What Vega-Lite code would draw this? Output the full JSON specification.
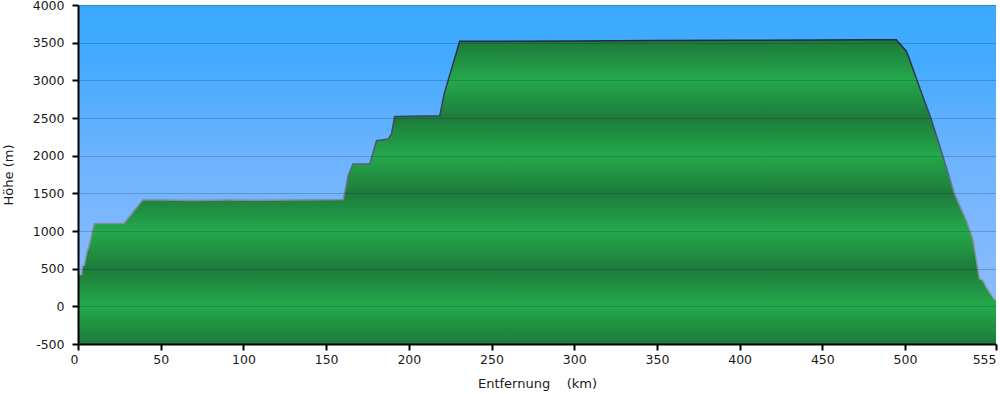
{
  "$schema": "https://vega.github.io/schema/vega-lite/v6.json",
  "width": 918,
  "height": 339,
  "autosize": "none",
  "padding": {"left": 78, "top": 5, "right": 4, "bottom": 50},
  "background": "white",
  "config": {
    "view": {"stroke": null},
    "font": "DejaVu Sans",
    "axis": {
      "labelFont": "DejaVu Sans",
      "titleFont": "DejaVu Sans",
      "labelFontSize": 12.5,
      "titleFontSize": 13,
      "titleFontWeight": "normal",
      "labelColor": "#1a1a1a",
      "titleColor": "#1a1a1a",
      "domainColor": "#000000",
      "domainWidth": 2,
      "tickColor": "#000000",
      "tickWidth": 2,
      "tickSize": 6
    }
  },
  "data": {
    "values": [
      {"km": 0, "elev": 420},
      {"km": 1.5, "elev": 420},
      {"km": 2.2, "elev": 425},
      {"km": 2.8, "elev": 535},
      {"km": 3.8, "elev": 545},
      {"km": 5.6, "elev": 740},
      {"km": 6.5, "elev": 785},
      {"km": 9.8, "elev": 1095},
      {"km": 12, "elev": 1100},
      {"km": 20, "elev": 1098},
      {"km": 27.8, "elev": 1100},
      {"km": 39.1, "elev": 1410},
      {"km": 50, "elev": 1410},
      {"km": 70, "elev": 1405},
      {"km": 90, "elev": 1410},
      {"km": 110, "elev": 1408},
      {"km": 130, "elev": 1412},
      {"km": 150, "elev": 1415},
      {"km": 160.3, "elev": 1417},
      {"km": 162.4, "elev": 1625},
      {"km": 163.3, "elev": 1735},
      {"km": 166.3, "elev": 1890},
      {"km": 176.4, "elev": 1890},
      {"km": 180.5, "elev": 2199},
      {"km": 187.5, "elev": 2220},
      {"km": 189.5, "elev": 2287},
      {"km": 191.5, "elev": 2520},
      {"km": 218.7, "elev": 2530},
      {"km": 221.5, "elev": 2830},
      {"km": 230.8, "elev": 3520},
      {"km": 260, "elev": 3518},
      {"km": 300, "elev": 3522},
      {"km": 350, "elev": 3528},
      {"km": 400, "elev": 3532},
      {"km": 450, "elev": 3536},
      {"km": 480, "elev": 3540},
      {"km": 494.7, "elev": 3538},
      {"km": 500.7, "elev": 3391},
      {"km": 502.7, "elev": 3281},
      {"km": 508.8, "elev": 2905},
      {"km": 515.8, "elev": 2486},
      {"km": 522.8, "elev": 2000},
      {"km": 529.9, "elev": 1493},
      {"km": 537.0, "elev": 1139},
      {"km": 541.0, "elev": 897},
      {"km": 545.0, "elev": 367},
      {"km": 547.0, "elev": 344},
      {"km": 549.1, "elev": 256},
      {"km": 554.1, "elev": 89},
      {"km": 555, "elev": 85}
    ]
  },
  "layer": [
    {
      "data": {"values": [{}]},
      "mark": {
        "type": "rect",
        "fill": {
          "gradient": "linear", "x1": 0, "y1": 0, "x2": 0, "y2": 1,
          "stops": [
            {"offset": 0, "color": "#24a94b"},
            {"offset": 0.1111, "color": "#1d7b3a"},
            {"offset": 0.2222, "color": "#24a94b"},
            {"offset": 0.3333, "color": "#1d7b3a"},
            {"offset": 0.4444, "color": "#24a94b"},
            {"offset": 0.5556, "color": "#1d7b3a"},
            {"offset": 0.6667, "color": "#24a94b"},
            {"offset": 0.7778, "color": "#1d7b3a"},
            {"offset": 0.8889, "color": "#24a94b"},
            {"offset": 1, "color": "#1d7b3a"}
          ]
        }
      },
      "encoding": {
        "x": {
          "datum": 0, "type": "quantitative",
          "scale": {"domain": [0, 555], "nice": false, "zero": false},
          "axis": {
            "title": "Entfernung\u00a0\u00a0\u00a0 (km)",
            "values": [0, 50, 100, 150, 200, 250, 300, 350, 400, 450, 500, 555],
            "tickCount": 40,
            "grid": false,
            "labelOverlap": false,
            "labelFlush": false,
            "labelExpr": "'' + datum.value",
            "labelPadding": 3,
            "titlePadding": 12,
            "labelAlign": {"condition": {"test": "datum.value == 0 || datum.value == 555", "value": "right"}, "value": "center"},
            "zindex": 1
          }
        },
        "x2": {"datum": 555},
        "y": {
          "datum": -500, "type": "quantitative",
          "scale": {"domain": [-500, 4000], "nice": false, "zero": false},
          "axis": {
            "title": "Höhe (m)",
            "values": [-500, 0, 500, 1000, 1500, 2000, 2500, 3000, 3500, 4000],
            "tickCount": 40,
            "grid": true,
            "gridColor": "#0a2040",
            "gridOpacity": 0.22,
            "gridWidth": 1,
            "labelOverlap": false,
            "labelFlush": false,
            "labelExpr": "'' + datum.value",
            "labelPadding": 8,
            "titlePadding": 17,
            "zindex": 1
          }
        },
        "y2": {"datum": 4000}
      }
    },
    {
      "mark": {
        "type": "area",
        "fill": {
          "gradient": "linear", "x1": 0, "y1": 0, "x2": 0, "y2": 1,
          "stops": [
            {"offset": 0, "color": "#3aa9fe"},
            {"offset": 0.2, "color": "#44abfe"},
            {"offset": 0.33, "color": "#56aefe"},
            {"offset": 0.51, "color": "#6cb3fe"},
            {"offset": 0.77, "color": "#7fb8fe"},
            {"offset": 1, "color": "#8abcfe"}
          ]
        }
      },
      "encoding": {
        "x": {"field": "km", "type": "quantitative"},
        "y": {"field": "elev", "type": "quantitative"},
        "y2": {"datum": 4000}
      }
    },
    {
      "mark": {
        "type": "line",
        "strokeWidth": 1.5,
        "stroke": {
          "gradient": "linear", "x1": 0, "y1": 0, "x2": 0, "y2": 1,
          "stops": [
            {"offset": 0, "color": "#1e2a42"},
            {"offset": 0.3, "color": "#3a4560"},
            {"offset": 0.5, "color": "#5a6480"},
            {"offset": 0.62, "color": "#828aa0"},
            {"offset": 1, "color": "#9299aa"}
          ]
        }
      },
      "encoding": {
        "x": {"field": "km", "type": "quantitative"},
        "y": {"field": "elev", "type": "quantitative"}
      }
    }
  ]
}
